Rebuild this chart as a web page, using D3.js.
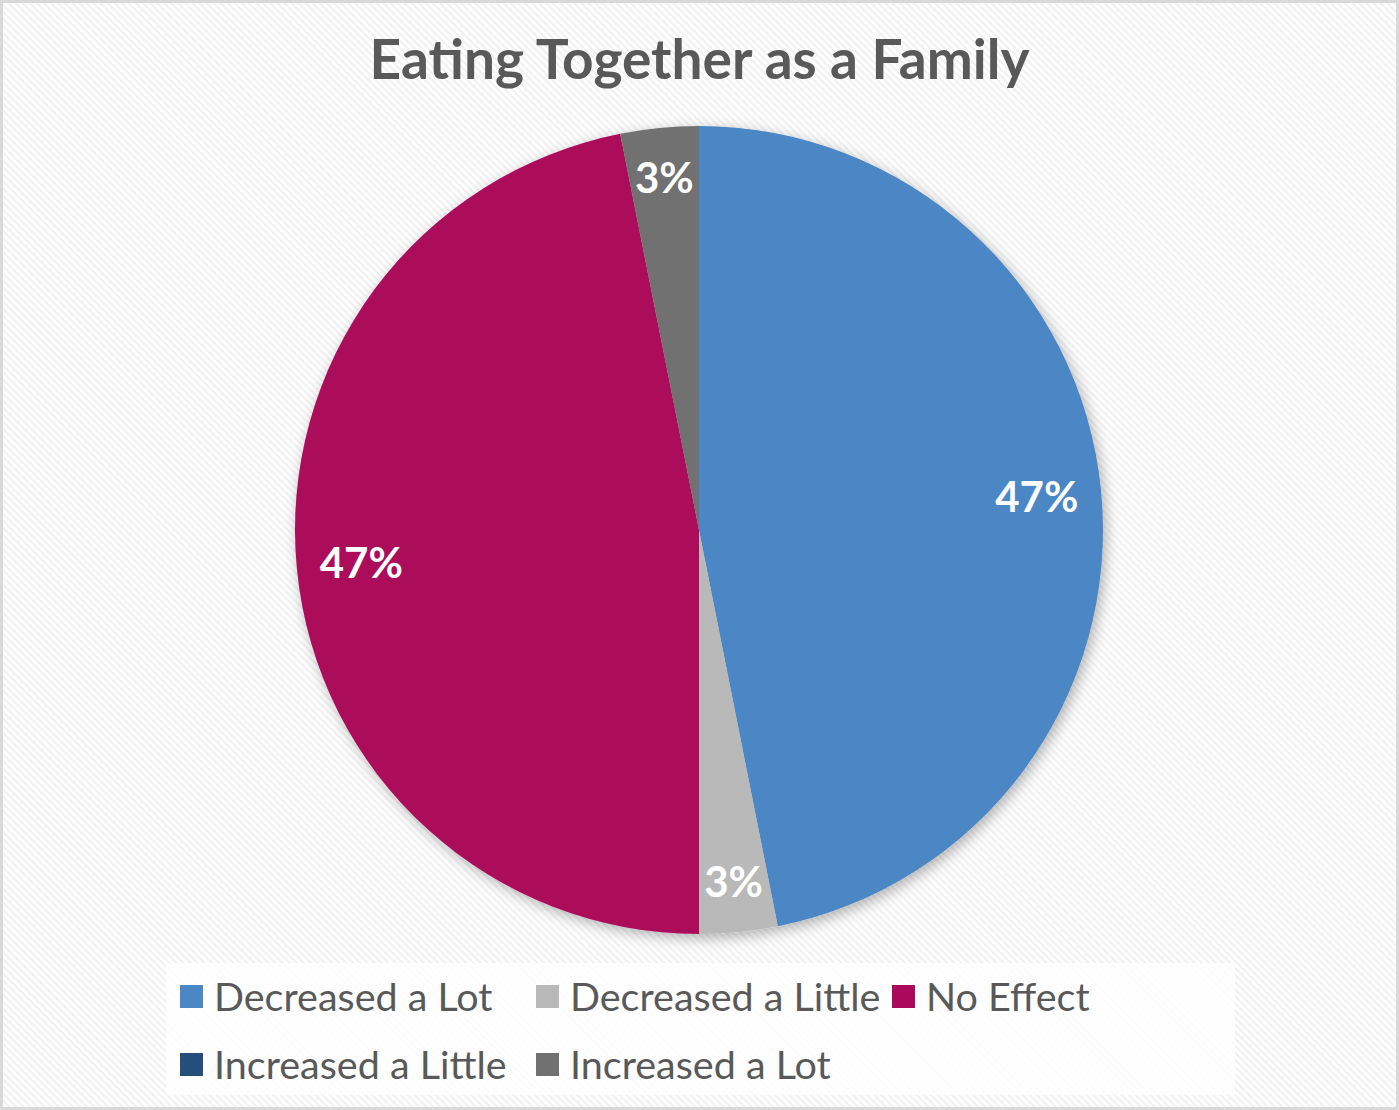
<!DOCTYPE html>
<html lang="en">
<head>
    <title>Eating Together as a Family</title>
    <script src="https://d3js.org/d3.v7.min.js"></script>
    <style>
        body { margin: 0; background: #fff; }
        .title { font-family: Lato, "Open Sans", sans-serif; font-weight: 700; fill: #595959; }
        .lbl { font-family: Lato, "Open Sans", sans-serif; font-weight: 700; fill: #fff; }
        .leg { font-family: Lato, "Open Sans", sans-serif; fill: #595959; }
    </style>
</head>
<body>
    <svg id="chart"></svg>

    <script>
        // survey answers (counts)
        var categories = ["Decreased a Lot", "Decreased a Little", "No Effect", "Increased a Little", "Increased a Lot"];
        var counts = [15, 1, 15, 0, 1];
        var colors = ["#4b86c5", "#b9b9b9", "#ab0a5a", "#254f7b", "#717171"];
        var titleText = "Eating Together as a Family";

        var width = 1399, height = 1110;
        var cx = 699, cy = 530, radius = 404;

        var svg = d3.select("#chart")
            .attr("width", width)
            .attr("height", height);

        var defs = svg.append("defs");

        // faint diagonal hatch used by the chart area
        var pat = defs.append("pattern")
            .attr("id", "hatch")
            .attr("patternUnits", "userSpaceOnUse")
            .attr("width", 5)
            .attr("height", 5)
            .attr("patternTransform", "rotate(45)");
        pat.append("rect").attr("width", 5).attr("height", 5).attr("fill", "#ffffff");
        pat.append("rect").attr("width", 5).attr("height", 2.2).attr("fill", "#f1f1f1");

        var shadow = defs.append("filter")
            .attr("id", "shadow")
            .attr("x", "-20%").attr("y", "-20%")
            .attr("width", "140%").attr("height", "140%");
        shadow.append("feDropShadow")
            .attr("dx", 3).attr("dy", 4)
            .attr("stdDeviation", 7)
            .attr("flood-color", "#000")
            .attr("flood-opacity", 0.3);

        // background + frame
        svg.append("rect")
            .attr("x", 1.5).attr("y", 1.5)
            .attr("width", width - 3).attr("height", height - 3)
            .attr("fill", "url(#hatch)")
            .attr("stroke", "#d9d9d9")
            .attr("stroke-width", 3);

        svg.append("text")
            .attr("class", "title")
            .attr("x", width / 2)
            .attr("y", 79)
            .attr("text-anchor", "middle")
            .style("font-size", "55px")
            .text(titleText);

        var pie = d3.pie().sort(null).value(function (d) { return d; });
        var arcs = pie(counts);

        var arc = d3.arc().innerRadius(0).outerRadius(radius);

        // narrow slices get their label pushed a little further out
        function labelPos(d) {
            var r = (d.endAngle - d.startAngle) < 0.5 ? radius * 0.875 : radius * 0.84;
            return d3.arc().innerRadius(r).outerRadius(r).centroid(d);
        }

        var g = svg.append("g")
            .attr("transform", "translate(" + cx + "," + cy + ")");

        g.append("g")
            .attr("filter", "url(#shadow)")
            .selectAll("path")
            .data(arcs)
            .join("path")
            .attr("d", arc)
            .attr("fill", function (d, i) { return colors[i]; });

        var total = d3.sum(counts);
        g.selectAll("text")
            .data(arcs.filter(function (d) { return d.data > 0; }))
            .join("text")
            .attr("class", "lbl")
            .attr("transform", function (d) { return "translate(" + labelPos(d) + ")"; })
            .attr("text-anchor", "middle")
            .attr("dy", "0.36em")
            .style("font-size", "42px")
            .text(function (d) { return Math.round(d.data / total * 100) + "%"; });

        // legend
        var legend = svg.append("g");
        legend.append("rect")
            .attr("x", 166).attr("y", 963)
            .attr("width", 1069).attr("height", 132)
            .attr("fill", "#ffffff")
            .attr("opacity", 0.75);

        var colW = 356, rowH = 68;
        var items = legend.selectAll("g.item")
            .data(categories)
            .join("g")
            .attr("class", "item")
            .attr("transform", function (d, i) {
                return "translate(" + (180 + (i % 3) * colW) + "," + (997 + Math.floor(i / 3) * rowH) + ")";
            });

        items.append("rect")
            .attr("x", 0).attr("y", -12)
            .attr("width", 23).attr("height", 23)
            .attr("fill", function (d, i) { return colors[i]; });

        items.append("text")
            .attr("class", "leg")
            .attr("x", 34)
            .attr("dy", "0.36em")
            .style("font-size", "39.5px")
            .text(function (d) { return d; });
    </script>
</body>
</html>
